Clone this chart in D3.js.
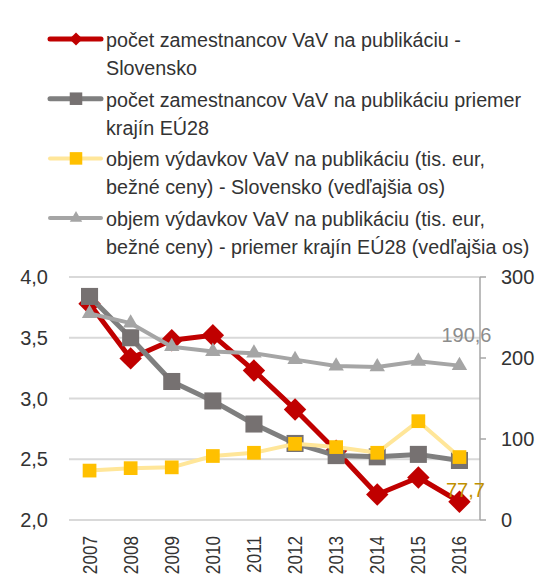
<!DOCTYPE html>
<html>
<head>
<meta charset="utf-8">
<script src="https://cdn.jsdelivr.net/npm/d3@7"></script>
<style>
  body { margin: 0; background: #fff; }
  text { font-family: "Liberation Sans", Arial, sans-serif; fill: #333; }
</style>
</head>
<body>
<div id="chart_div"></div>
<script>
var years = ["2007", "2008", "2009", "2010", "2011", "2012", "2013", "2014", "2015", "2016"];
var staffSK = [3.78, 3.33, 3.48, 3.52, 3.23, 2.91, 2.57, 2.21, 2.35, 2.15];
var staffEU = [3.84, 3.50, 3.14, 2.98, 2.79, 2.63, 2.53, 2.52, 2.54, 2.49];
var spendSK = [61, 64, 65, 79, 83, 94, 90, 83, 122, 77.7];
var spendEU = [255, 243, 214, 208, 206, 198, 190, 189, 196, 190.6];
var leftTicks = [2.0, 2.5, 3.0, 3.5, 4.0];
var rightTicks = [0, 100, 200, 300];
var legendLabels = [
    ["počet zamestnancov VaV na publikáciu -", "Slovensko"],
    ["počet zamestnancov VaV na publikáciu priemer", "krajín EÚ28"],
    ["objem výdavkov VaV na publikáciu (tis. eur,", "bežné ceny) - Slovensko (vedľajšia os)"],
    ["objem výdavkov VaV na publikáciu (tis. eur,", "bežné ceny) - priemer krajín EÚ28 (vedľajšia os)"]
];

var width = 536, height = 585;
var plot = {left: 69, right: 480, top: 277, bottom: 520};
const RED = "#c00000", DGRAY = "#7f7f7f", SQGRAY = "#767171", YEL = "#ffc000", YEL_LINE = "#ffe699", LGRAY = "#a5a5a5";

var svg = d3.select("#chart_div").append("svg")
    .attr("width", width)
    .attr("height", height);

var x = d3.scaleBand().domain(years).range([plot.left, plot.right]);
var yL = d3.scaleLinear().domain([2, 4]).range([plot.bottom, plot.top]);
var yR = d3.scaleLinear().domain([0, 300]).range([plot.bottom, plot.top]);
var cx = d => x(d) + x.bandwidth() / 2;
var fmt = v => d3.format(".1f")(v).replace(".", ",");

// gridlines
svg.append("g").selectAll("line")
    .data(leftTicks)
    .enter().append("line")
    .attr("x1", plot.left).attr("x2", plot.right)
    .attr("y1", d => yL(d)).attr("y2", d => yL(d))
    .style("stroke", "#d9d9d9")
    .style("stroke-width", 2);

// left axis labels
svg.append("g").selectAll("text")
    .data(leftTicks)
    .enter().append("text")
    .attr("x", 48)
    .attr("y", d => yL(d) + 7)
    .attr("text-anchor", "end")
    .style("font-size", "20px")
    .text(fmt);

// right axis
var gR = svg.append("g");
gR.append("line")
    .attr("x1", plot.right).attr("x2", plot.right)
    .attr("y1", plot.top).attr("y2", plot.bottom)
    .style("stroke", "#a6a6a6").style("stroke-width", 1.5);
gR.selectAll("line.tick")
    .data(rightTicks)
    .enter().append("line")
    .attr("class", "tick")
    .attr("x1", plot.right).attr("x2", plot.right + 6)
    .attr("y1", d => yR(d)).attr("y2", d => yR(d))
    .style("stroke", "#a6a6a6").style("stroke-width", 1.5);
gR.selectAll("text")
    .data(rightTicks)
    .enter().append("text")
    .attr("x", 501)
    .attr("y", d => yR(d) + 7)
    .style("font-size", "20px")
    .text(d => d);

// year labels (condensed a bit, like the original narrow font)
svg.append("g").selectAll("text")
    .data(years)
    .enter().append("text")
    .attr("transform", d => "translate(" + (cx(d) + 7) + ",536) rotate(-90) scale(0.88,1)")
    .attr("text-anchor", "end")
    .style("font-size", "19.5px")
    .text(d => d);

function drawSeries(values, yScale, lineColor, lineWidth, marker, markerColor, size) {
    var pts = values.map((v, i) => [cx(years[i]), yScale(v)]);
    svg.append("path")
        .datum(pts)
        .attr("d", d3.line())
        .style("fill", "none")
        .style("stroke", lineColor)
        .style("stroke-width", lineWidth)
        .style("stroke-linejoin", "round");
    svg.append("g").selectAll("path")
        .data(pts)
        .enter().append("path")
        .attr("transform", d => "translate(" + d[0] + "," + d[1] + ")")
        .attr("d", d3.symbol().type(marker).size(size))
        .style("fill", markerColor);
}

drawSeries(staffSK, yL, RED, 5, d3.symbolDiamond2, RED, 320);
drawSeries(staffEU, yL, DGRAY, 5, d3.symbolSquare2, SQGRAY, 370);
drawSeries(spendSK, yR, YEL_LINE, 4, d3.symbolSquare2, YEL, 240);
drawSeries(spendEU, yR, LGRAY, 4, d3.symbolTriangle2, LGRAY, 170);

// data labels for last points
var last = years.length - 1;
svg.append("text")
    .attr("x", cx(years[last]) + 7)
    .attr("y", yR(spendEU[last]) - 24)
    .attr("text-anchor", "middle")
    .style("font-size", "20px")
    .style("fill", "#8c8c8c")
    .text(fmt(spendEU[last]));
svg.append("text")
    .attr("x", cx(years[last]) + 6)
    .attr("y", yR(spendSK[last]) + 40)
    .attr("text-anchor", "middle")
    .style("font-size", "20px")
    .style("fill", "#bf9000")
    .text(fmt(spendSK[last]));

// legend
var legendStyles = [
    {color: RED, width: 5, marker: d3.symbolDiamond2, fill: RED, size: 110},
    {color: DGRAY, width: 5, marker: d3.symbolSquare2, fill: SQGRAY, size: 200},
    {color: YEL_LINE, width: 4, marker: d3.symbolSquare2, fill: YEL, size: 200},
    {color: LGRAY, width: 4, marker: d3.symbolTriangle2, fill: LGRAY, size: 110}
];
var legend = svg.append("g").selectAll("g")
    .data(legendLabels)
    .enter().append("g")
    .attr("transform", (d, i) => "translate(0," + (39 + i * 59.7) + ")");
legend.append("line")
    .attr("x1", 50).attr("x2", 101)
    .style("stroke", (d, i) => legendStyles[i].color)
    .style("stroke-width", (d, i) => legendStyles[i].width)
    .style("stroke-linecap", "round");
legend.append("path")
    .attr("transform", "translate(76,0)")
    .attr("d", (d, i) => d3.symbol().type(legendStyles[i].marker).size(legendStyles[i].size)())
    .style("fill", (d, i) => legendStyles[i].fill);
legend.each(function(lines) {
    var t = d3.select(this).append("text")
        .attr("transform", "translate(106,8) scale(0.94,1)")
        .style("font-size", "21px");
    lines.forEach((l, j) => {
        t.append("tspan").attr("x", 0).attr("dy", j ? 28 : 0).text(l);
    });
});
</script>
</body>
</html>
